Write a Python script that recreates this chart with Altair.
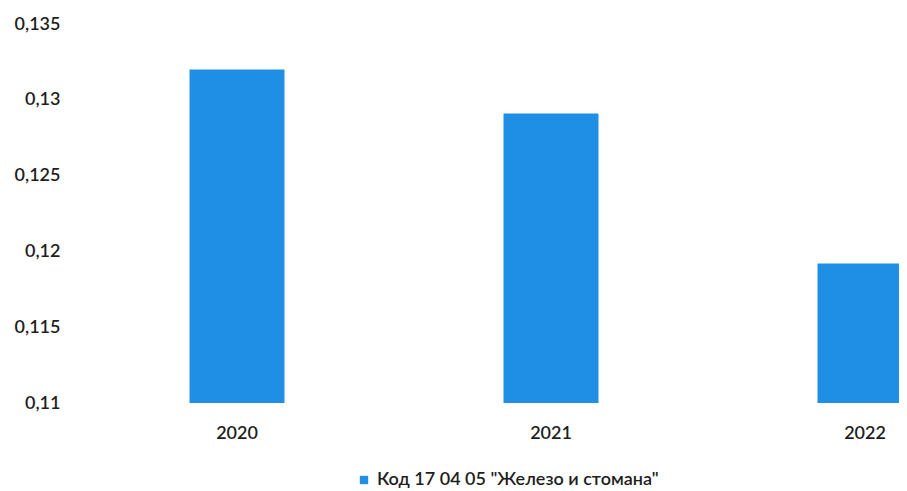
import altair as alt
import pandas as pd

years = ["2020", "2021", "2022"]
values = [0.1320, 0.1291, 0.1192]
series_name = 'Код 17 04 05 "Железо и стомана"'
y_ticks = [0.11, 0.115, 0.12, 0.125, 0.13, 0.135]

df = pd.DataFrame({"year": years, "value": values, "series": [series_name] * len(years)})

FONT = "Lato"
TXT = "#1e1e1e"
BLUE = "#1f8fe6"
FS = 18
FW = 600

chart = alt.Chart(df).mark_bar(size=95, clip=True).encode(
    x=alt.X("year:N", title=None,
            scale=alt.Scale(range=[10, 952], paddingInner=0, paddingOuter=0),
            axis=alt.Axis(labelAngle=0, domain=False, ticks=False, tickSize=0,
                          labelPadding=21, labelFontSize=FS, labelFont=FONT,
                          labelFontWeight=FW, labelColor=TXT, grid=False)),
    y=alt.Y("value:Q", title=None,
            scale=alt.Scale(domain=[0.11, 0.135], zero=False, nice=False),
            axis=alt.Axis(values=y_ticks, domain=False, ticks=False, tickSize=0,
                          grid=False, labelPadding=10, labelFontSize=FS, labelFont=FONT,
                          labelFontWeight=FW, labelColor=TXT,
                          labelExpr="replace(format(datum.value, '.3~f'), '.', ',')")),
    y2=alt.Y2(datum=0.11),
    color=alt.Color("series:N", scale=alt.Scale(range=[BLUE]),
                    legend=alt.Legend(title=None, orient="none", legendX=285, legendY=447,
                                      symbolType="square", symbolSize=70,
                                      symbolStrokeWidth=0,
                                      labelFontSize=FS, labelFont=FONT, labelColor=TXT,
                                      labelFontWeight=FW, labelLimit=500)),
).properties(
    width=829,
    height=379,
    padding={"left": 62, "top": 16, "right": 0, "bottom": 88},
    autosize=alt.AutoSizeParams(type="none"),
).configure_view(stroke=None)

chart.save("out.html", embed_options={"renderer": "svg", "actions": False})
